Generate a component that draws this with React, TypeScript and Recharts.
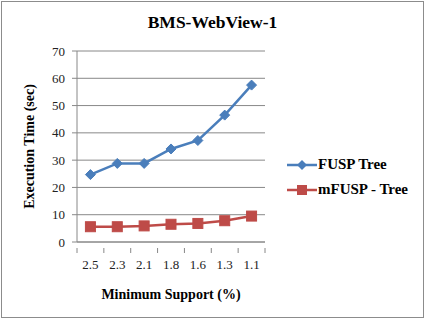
import React from 'react';
import { LineChart, Line, XAxis, YAxis, CartesianGrid } from 'recharts';

const categories = ['2.5', '2.3', '2.1', '1.8', '1.6', '1.3', '1.1'];
const fuspTree = [24.7, 28.8, 28.8, 34.1, 37.2, 46.5, 57.5];
const mfuspTree = [5.6, 5.6, 5.9, 6.5, 6.8, 7.8, 9.5];
const yTicks = [0, 10, 20, 30, 40, 50, 60, 70];
const seriesNames = ['FUSP Tree', 'mFUSP - Tree'];

const data = categories.map((c, i) => ({ cat: c, fusp: fuspTree[i], mfusp: mfuspTree[i] }));

const FONT = '"Liberation Serif", "Times New Roman", serif';
const BLUE = '#4A7EBB';
const RED = '#BE4B48';
const GRID = '#888';

const Diamond = (props: any) => {
  const { cx, cy } = props;
  if (cx == null || cy == null) return null;
  const r = 5;
  return <path d={`M${cx},${cy - r}L${cx + r},${cy}L${cx},${cy + r}L${cx - r},${cy}Z`} fill={BLUE} stroke={BLUE} />;
};
const Square = (props: any) => {
  const { cx, cy } = props;
  if (cx == null || cy == null) return null;
  const r = 5;
  return <rect x={cx - r} y={cy - r} width={2 * r} height={2 * r} fill={RED} stroke={RED} />;
};

const CatTick = (props: any) => {
  const { x, y, payload, index, visibleTicksCount } = props;
  const half = payload && payload.offset ? payload.offset : 13.43;
  const last = index === (visibleTicksCount ? visibleTicksCount - 1 : categories.length - 1);
  return (
    <g>
      <line x1={x - half} y1={y} x2={x - half} y2={y + 5} stroke={GRID} />
      {last ? <line x1={x + half} y1={y} x2={x + half} y2={y + 5} stroke={GRID} /> : null}
      <text x={x} y={y + 21} textAnchor="middle" fontFamily={FONT} fontSize={13} fill="#222">{payload.value}</text>
    </g>
  );
};

const LegendBox = () => (
  <div style={{ position: 'absolute', left: 287, top: 152, fontFamily: FONT, fontWeight: 'bold', fontSize: 15, color: '#000' }}>
    <div style={{ display: 'flex', alignItems: 'center', height: 25 }}>
      <svg width={31} height={12}>
        <line x1={0} y1={6} x2={30} y2={6} stroke={BLUE} strokeWidth={2.5} />
        <path d="M15,1L20,6L15,11L10,6Z" fill={BLUE} />
      </svg>
      <span>{seriesNames[0]}</span>
    </div>
    <div style={{ display: 'flex', alignItems: 'center', height: 25 }}>
      <svg width={31} height={12}>
        <line x1={0} y1={6} x2={30} y2={6} stroke={RED} strokeWidth={2.5} />
        <rect x={10} y={1} width={10} height={10} fill={RED} />
      </svg>
      <span>{seriesNames[1]}</span>
    </div>
  </div>
);

export default function App() {
  return (
    <div style={{ position: 'absolute', left: 0, top: 0, width: 425, height: 319, background: '#fff' }}>
      <div style={{ position: 'absolute', left: 1, top: 1, width: 421, height: 315, border: '1px solid #8c8c8c' }} />
      <div style={{ position: 'absolute', left: 0, top: 12, width: 425, textAlign: 'center', fontFamily: FONT, fontWeight: 'bold', fontSize: 17.5, color: '#000' }}>
        BMS-WebView-1
      </div>
      <div style={{ position: 'absolute', left: 0, top: 0 }}>
        <LineChart width={425} height={319} data={data} margin={{ top: 51, right: 160, bottom: 0, left: 0 }}>
          <CartesianGrid vertical={false} stroke={GRID} />
          <XAxis dataKey="cat" scale="band" height={77} axisLine={{ stroke: GRID }} tickLine={false} tickMargin={0} interval={0}
            tick={<CatTick />}
            label={{ value: 'Minimum Support (%)', position: 'insideBottom', offset: 20, style: { fontFamily: FONT, fontWeight: 'bold', fontSize: 14, fill: '#000' } }} />
          <YAxis width={77} domain={[0, 70]} ticks={yTicks} axisLine={{ stroke: GRID }} tickLine={{ stroke: GRID }} tickSize={5}
            tick={{ fontFamily: FONT, fontSize: 13, fill: '#222' }} tickMargin={7}
            label={{ value: 'Execution Time (sec)', angle: -90, position: 'insideLeft', offset: 29, style: { textAnchor: 'middle', fontFamily: FONT, fontWeight: 'bold', fontSize: 14, fill: '#000' } }} />
          <Line dataKey="fusp" stroke={BLUE} strokeWidth={2.5} dot={<Diamond />} isAnimationActive={false} />
          <Line dataKey="mfusp" stroke={RED} strokeWidth={2.5} dot={<Square />} isAnimationActive={false} />
        </LineChart>
      </div>
      <LegendBox />
    </div>
  );
}
